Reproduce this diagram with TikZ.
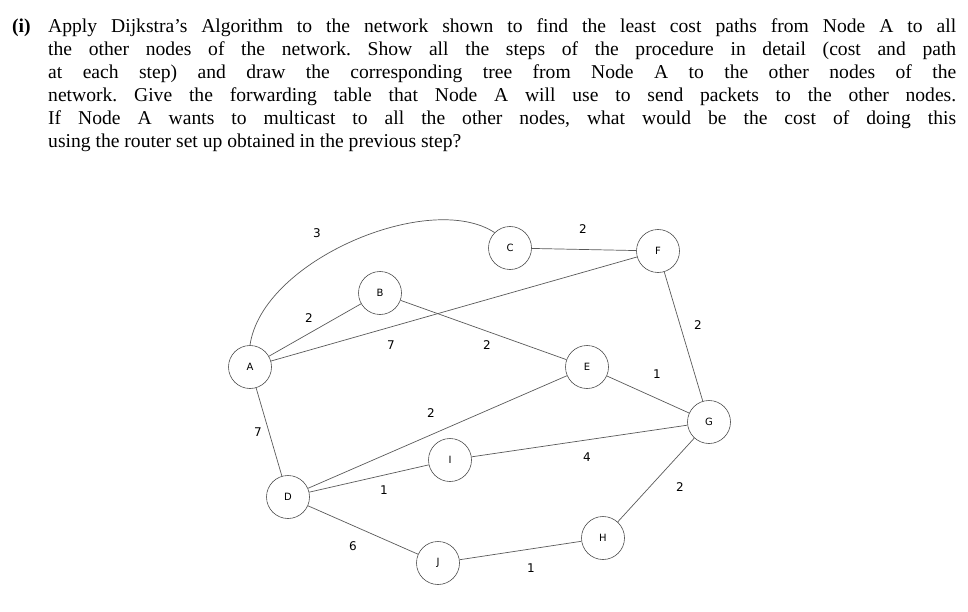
\documentclass[tikz,border=0pt]{standalone}
\usepackage{fontspec}
\setmainfont{Liberation Serif}
\newfontfamily\nodefont{DejaVu Sans}
\begin{document}
\frenchspacing
\begin{tikzpicture}[x=1pt,y=-1pt,
  nd/.style={circle,draw=black!70,line width=0.6pt,minimum size=43pt,inner sep=0pt,font=\nodefont\fontsize{10}{10}\selectfont},
  ed/.style={draw=black!65,line width=0.7pt},
  lb/.style={font=\nodefont\fontsize{12}{12}\selectfont}]
\useasboundingbox (0,0) rectangle (968,612);
\node[anchor=north west,inner sep=0pt,font=\fontsize{19.6}{23}\selectfont\bfseries] (num) at (12,19) {(i)};
\node[anchor=north west,inner sep=0pt,text width=908pt,align=justify,font=\fontsize{19.6}{23}\selectfont\frenchspacing] (txt) at (48,19) {Apply Dijkstra’s Algorithm to the network shown to find the least cost paths from Node A to all\linebreak the other nodes of the network. Show all the steps of the procedure in detail (cost and path\linebreak at each step) and draw the corresponding tree from Node A to the other nodes of the\linebreak network. Give the forwarding table that Node A will use to send packets to the other nodes.\linebreak If Node A wants to multicast to all the other nodes, what would be the cost of doing this\linebreak using the router set up obtained in the previous step?};
\node[nd] (A) at (250,367) {A};
\node[nd] (B) at (380,293) {B};
\node[nd] (C) at (510,248) {C};
\node[nd] (F) at (658,251) {F};
\node[nd] (E) at (587,367) {E};
\node[nd] (G) at (709,422) {G};
\node[nd] (I) at (450,460) {I};
\node[nd] (D) at (288,497) {D};
\node[nd] (H) at (603,538) {H};
\node[nd] (J) at (438,563) {J};
\draw[ed] (A.north) .. controls (262,260) and (430,190) .. (C.north west);
\draw[ed] (C) -- (F);
\draw[ed] (A) -- (B);
\draw[ed] (A) -- (F);
\draw[ed] (B) -- (E);
\draw[ed] (F) -- (G);
\draw[ed] (E) -- (G);
\draw[ed] (A) -- (D);
\draw[ed] (D) -- (E);
\draw[ed] (I) -- (G);
\draw[ed] (D) -- (I);
\draw[ed] (G) -- (H);
\draw[ed] (D) -- (J);
\draw[ed] (J) -- (H);
\node[lb] (l1) at (317,233) {3};
\node[lb] (l2) at (583,229) {2};
\node[lb] (l3) at (309,318) {2};
\node[lb] (l4) at (391,345) {7};
\node[lb] (l5) at (487,345) {2};
\node[lb] (l6) at (698,325) {2};
\node[lb] (l7) at (657,374) {1};
\node[lb] (l8) at (258,432) {7};
\node[lb] (l9) at (431,413) {2};
\node[lb] (l10) at (587,457) {4};
\node[lb] (l11) at (384,490) {1};
\node[lb] (l12) at (680,487) {2};
\node[lb] (l13) at (353,546) {6};
\node[lb] (l14) at (531,568) {1};
\end{tikzpicture}
\end{document}
